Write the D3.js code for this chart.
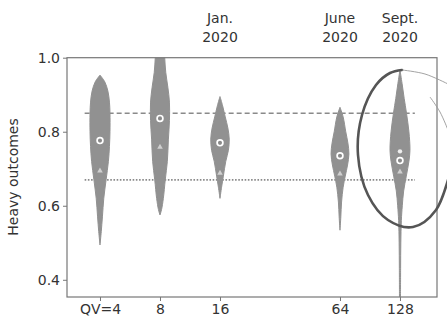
<!DOCTYPE html>
<html><head><meta charset="utf-8">
<script src="https://cdn.jsdelivr.net/npm/d3@7"></script>
<style>body{margin:0;background:#fff}svg{display:block}text{font-family:"DejaVu Sans",sans-serif;fill:#333}</style>
</head><body>
<svg id="c" width="447" height="323"></svg>
<script>
const categories = [4, 8, 16, 64, 128];
const tickLabels = ["QV=4", "8", "16", "64", "128"];
const yTicks = [0.4, 0.6, 0.8, 1.0];
const topLabels = [{qv:16, lines:["Jan.","2020"]},{qv:64, lines:["June","2020"]},{qv:128, lines:["Sept.","2020"]}];
// violin profiles: value levels and relative density
const profileValues = [
  [0.953,0.935,0.91,0.88,0.85,0.80,0.76,0.72,0.67,0.62,0.57,0.53,0.494],
  [1.03,1.0,0.96,0.92,0.88,0.83,0.78,0.72,0.67,0.62,0.59,0.575],
  [0.895,0.87,0.84,0.81,0.78,0.75,0.72,0.68,0.65,0.62],
  [0.866,0.84,0.80,0.77,0.74,0.71,0.68,0.65,0.61,0.57,0.534],
  [0.967,0.93,0.89,0.85,0.80,0.75,0.72,0.68,0.64,0.60,0.56,0.50,0.43,0.35]
];
const profileDensity = [
  [0,0.45,0.75,0.9,0.95,0.95,0.9,0.8,0.58,0.36,0.23,0.12,0],
  [0.4,0.45,0.55,0.75,0.9,0.9,0.8,0.7,0.5,0.32,0.15,0],
  [0,0.25,0.5,0.75,0.88,0.8,0.55,0.32,0.15,0],
  [0,0.3,0.55,0.75,0.85,0.72,0.5,0.3,0.15,0.08,0],
  [0,0.2,0.4,0.62,0.85,0.95,0.85,0.6,0.35,0.22,0.13,0.08,0.06,0.05]
];
const medians = [0.776, 0.836, 0.77, 0.735, 0.722];
const secondMarks = [0.696, 0.76, 0.69, 0.688, 0.693];
const extraMarks = [null, null, null, null, 0.747];
const dashedLevel = 0.85;
const dottedLevel = 0.67;

const svg = d3.select("#c");
const L=67, R=437, T=57.7, B=297;
const x = d3.scaleLog().base(2).domain([Math.pow(2,1.45), Math.pow(2,7.617)]).range([L,R]);
const y = d3.scaleLinear().domain([0.3535,1.0]).range([B,T]);
const w = d3.scaleLinear().domain([0,1]).range([0,10.5]);

svg.append("defs").append("clipPath").attr("id","pc").append("rect")
  .attr("x",L).attr("y",T).attr("width",R-L).attr("height",B-T);
const plot = svg.append("g").attr("clip-path","url(#pc)");

// reference lines
plot.append("line").attr("x1",x(3.35)).attr("x2",x(152)).attr("y1",y(dashedLevel)).attr("y2",y(dashedLevel))
  .attr("stroke","#8a8a8a").attr("stroke-width",1.6).attr("stroke-dasharray","5,3");
plot.append("line").attr("x1",x(3.35)).attr("x2",x(152)).attr("y1",y(dottedLevel)).attr("y2",y(dottedLevel))
  .attr("stroke","#8a8a8a").attr("stroke-width",1.6).attr("stroke-dasharray","1.6,1.6");

// violins
categories.forEach((c,i)=>{
  const pts = profileValues[i].map((v,j)=>({v, d:profileDensity[i][j]}));
  const area = d3.area().curve(d3.curveCatmullRom)
    .y(p=>y(p.v)).x0(p=>x(c)-w(p.d)).x1(p=>x(c)+w(p.d));
  plot.append("path").attr("d",area(pts)).attr("fill","#919191")
    .attr("stroke","#919191").attr("stroke-width",1);
  const sy = y(secondMarks[i]);
  plot.append("path").attr("d",`M${x(c)},${sy-2.8}L${x(c)+2.8},${sy+2.2}L${x(c)-2.8},${sy+2.2}Z`)
    .attr("fill","#e0e0e0").attr("opacity",0.8);
  if (extraMarks[i]!=null){
    plot.append("circle").attr("cx",x(c)).attr("cy",y(extraMarks[i])).attr("r",2.2).attr("fill","#eeeeee");
  }
  plot.append("circle").attr("cx",x(c)).attr("cy",y(medians[i])).attr("r",2.9)
    .attr("fill","#8a8a8a").attr("stroke","#fff").attr("stroke-width",1.7);
});

// frame
svg.append("rect").attr("x",L).attr("y",T).attr("width",R-L).attr("height",B-T)
  .attr("fill","none").attr("stroke","#777").attr("stroke-width",1.2);

// y axis
const ya = svg.append("g").attr("transform",`translate(${L},0)`)
  .call(d3.axisLeft(y).tickValues(yTicks).tickFormat(d3.format(".1f")).tickSize(4).tickPadding(3));
ya.select(".domain").remove();
ya.selectAll("line").attr("stroke","#777");
ya.selectAll("text").style("font-size","14px").attr("fill","#333").attr("font-family","DejaVu Sans");

// x axis
const xa = svg.append("g").attr("transform",`translate(0,${B})`)
  .call(d3.axisBottom(x).tickValues(categories).tickFormat((d,i)=>tickLabels[i]).tickSize(4).tickPadding(3));
xa.select(".domain").remove();
xa.selectAll("line").attr("stroke","#777");
xa.selectAll("text").style("font-size","14px").attr("fill","#333").attr("font-family","DejaVu Sans");

// y label
svg.append("text").attr("transform","translate(18,177) rotate(-90)").attr("text-anchor","middle")
  .style("font-size","14px").text("Heavy outcomes");

// top labels
topLabels.forEach(t=>{
  t.lines.forEach((s,k)=>{
    svg.append("text").attr("x",x(t.qv)).attr("y",23+k*19).attr("text-anchor","middle")
      .style("font-size","14px").text(s);
  });
});

// hand-drawn loop annotation
const loop = d3.line().curve(d3.curveCatmullRom);
svg.append("path").attr("d",loop([[452,165],[436,210],[413,227],[388,220],[368,195],[358,155],[362,115],[376,85],[390,73],[402,70]]))
  .attr("fill","none").attr("stroke","#555").attr("stroke-width",2.6).attr("stroke-linecap","round");
svg.append("path").attr("d",loop([[402,70],[425,74],[448,84]]))
  .attr("fill","none").attr("stroke","#999").attr("stroke-width",0.9);
svg.append("path").attr("d",loop([[430,97],[440,112],[448,130]]))
  .attr("fill","none").attr("stroke","#999").attr("stroke-width",0.9);
</script>
</body></html>
